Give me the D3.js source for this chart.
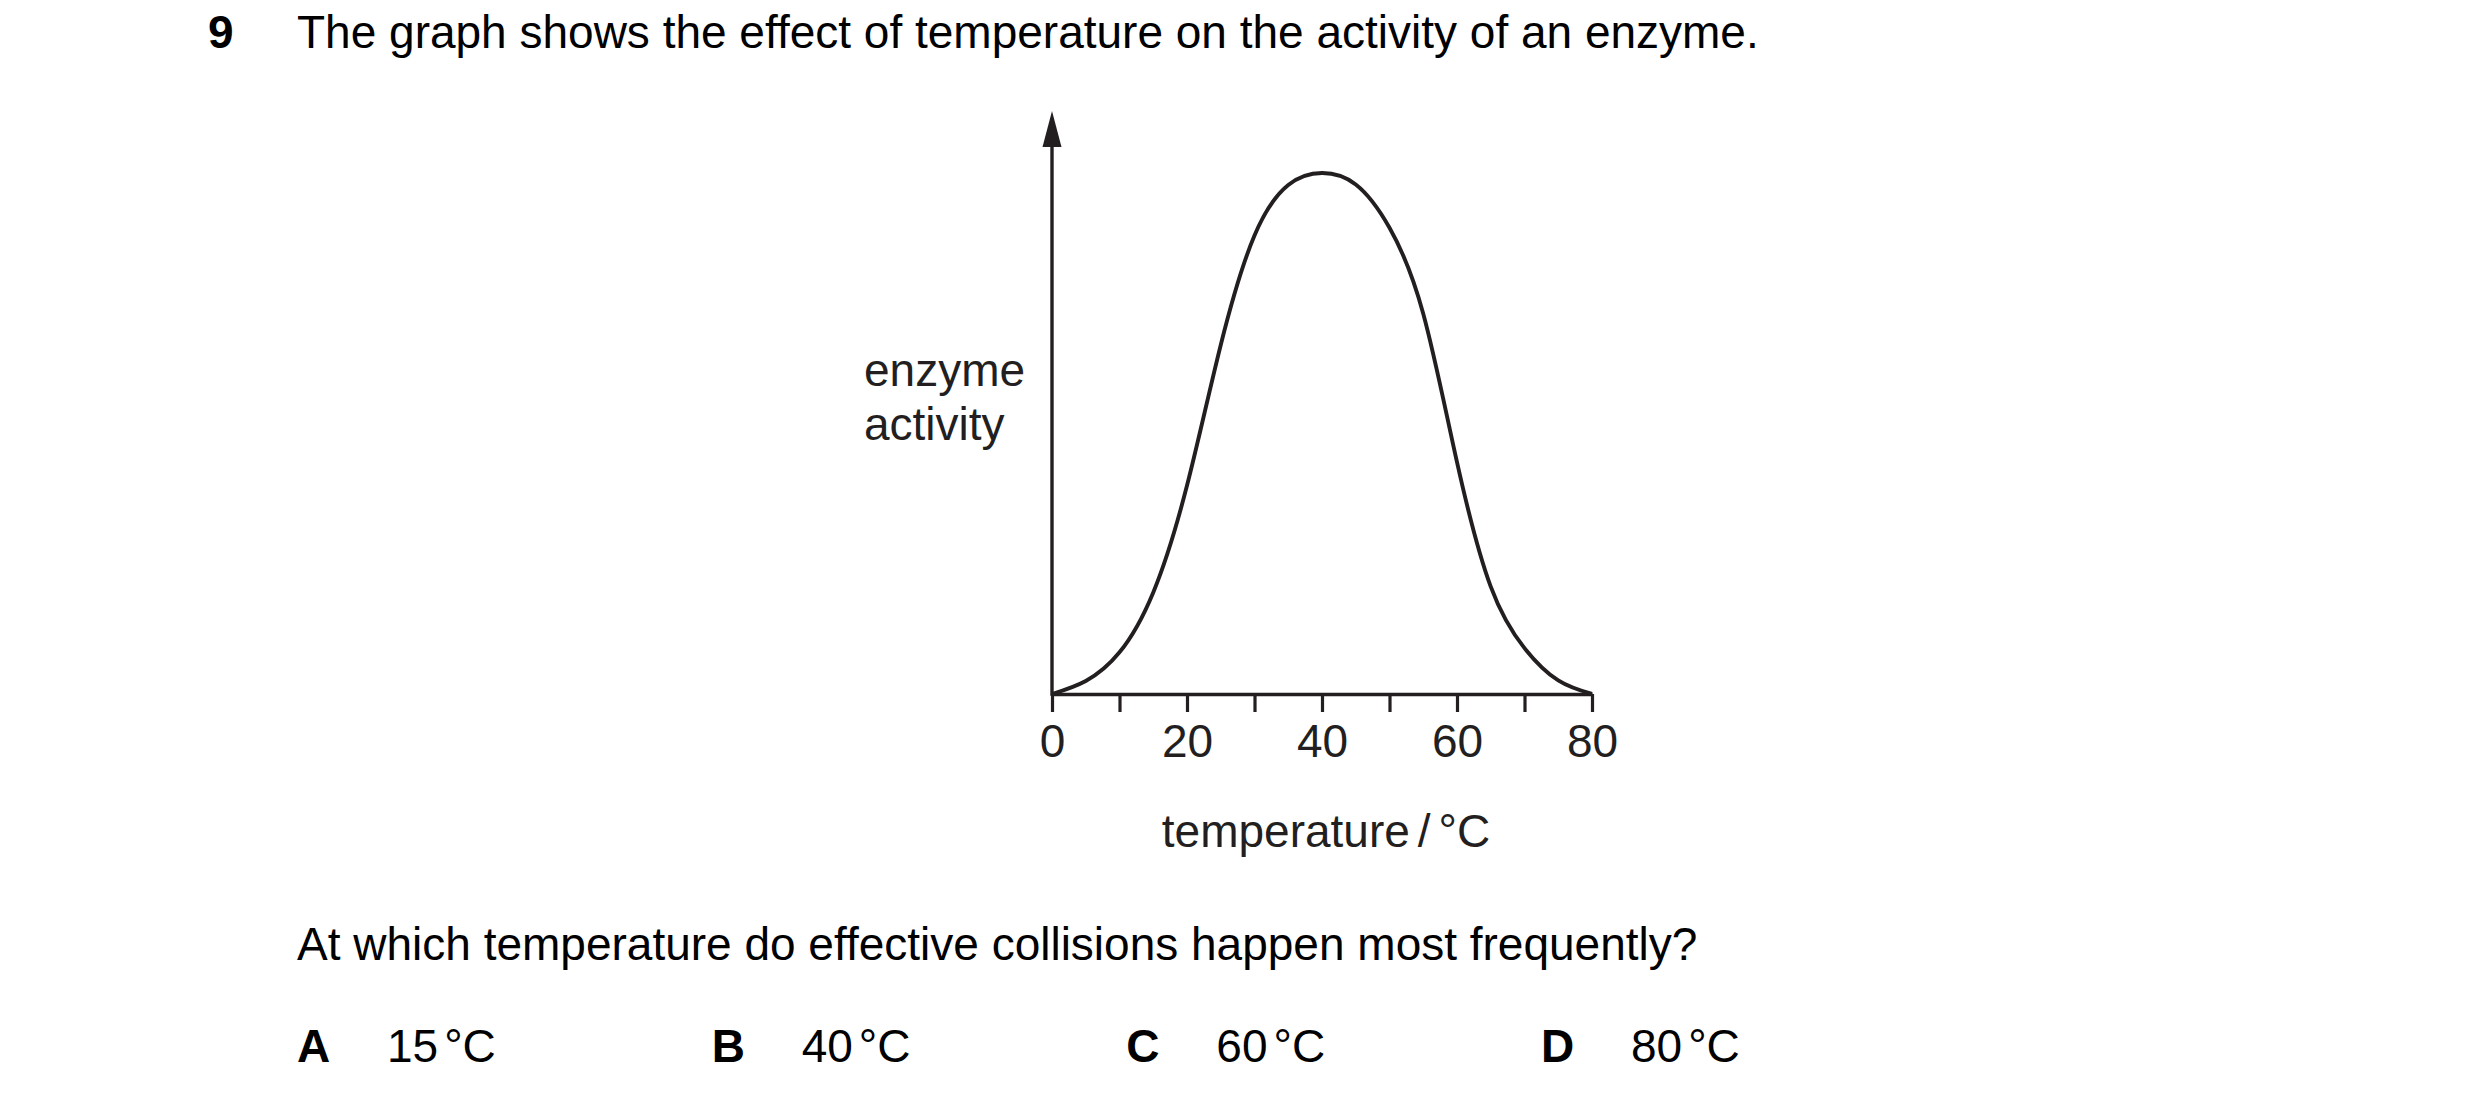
<!DOCTYPE html>
<html>
<head>
<meta charset="utf-8">
<script src="https://cdn.jsdelivr.net/npm/d3@7"></script>
<style>
  body { margin: 0; background: #fff; }
  svg { display: block; font-family: "Liberation Sans", Arial, sans-serif; }
</style>
</head>
<body>
<div id="chart"></div>
<script>
// temperature / °C every 5 degrees
var temperatures = [0, 5, 10, 15, 20, 25, 30, 35, 40, 45, 50, 55, 60, 65, 70, 75, 80];
// enzyme activity, relative to the peak (no units on the axis)
var activity = [0, 0.025, 0.08, 0.195, 0.40, 0.67, 0.88, 0.977, 1.0, 0.978, 0.895, 0.73, 0.445, 0.206, 0.088, 0.026, 0];
var xTicks = [0, 10, 20, 30, 40, 50, 60, 70, 80];
var xLabelled = [0, 20, 40, 60, 80];
var options = ["A", "B", "C", "D"];
var optionValues = ["15", "40", "60", "80"];

var width = 2480, height = 1100;
var ink = "#231f20";
var fontSize = 46;

var svg = d3.select("#chart").append("svg")
    .attr("width", width)
    .attr("height", height);

svg.append("rect").attr("width", width).attr("height", height).attr("fill", "#fff");

// question header
svg.append("text").attr("x", 208).attr("y", 48)
    .attr("font-size", fontSize).attr("font-weight", "bold").attr("fill", "#000")
    .text("9");
svg.append("text").attr("x", 297).attr("y", 48)
    .attr("font-size", fontSize).attr("fill", "#000")
    .text("The graph shows the effect of temperature on the activity of an enzyme.");

// graph area
var x = d3.scaleLinear().domain([0, 80]).range([1052, 1592]);
var y = d3.scaleLinear().domain([0, 1]).range([694, 173]);

var xAxis = d3.axisBottom(x)
    .tickValues(xTicks)
    .tickSize(18)
    .tickSizeOuter(0)
    .tickPadding(12)
    .tickFormat(function (d) { return xLabelled.indexOf(d) >= 0 ? d : ""; });

var gx = svg.append("g")
    .attr("transform", "translate(0," + y(0) + ")")
    .call(xAxis);
gx.select(".domain").attr("stroke", ink).attr("stroke-width", 3.4);
gx.selectAll(".tick line").attr("stroke", ink).attr("stroke-width", 3.2);
gx.selectAll(".tick text")
    .attr("fill", ink)
    .attr("font-size", fontSize)
    .attr("font-family", "Liberation Sans, Arial, sans-serif");

// y axis: plain line with an arrow head, no ticks
var yTop = 147;
svg.append("line")
    .attr("x1", x(0)).attr("x2", x(0))
    .attr("y1", y(0) + 1.7).attr("y2", yTop)
    .attr("stroke", ink).attr("stroke-width", 3.4);
svg.append("path")
    .attr("d", "M" + x(0) + ",111 L" + (x(0) + 9.5) + "," + yTop + " L" + (x(0) - 9.5) + "," + yTop + " Z")
    .attr("fill", ink);

// activity curve
var points = temperatures.map(function (t, i) { return [t, activity[i]]; });
var line = d3.line()
    .x(function (d) { return x(d[0]); })
    .y(function (d) { return y(d[1]); })
    .curve(d3.curveNatural);

svg.append("path")
    .datum(points)
    .attr("d", line)
    .attr("fill", "none")
    .attr("stroke", ink)
    .attr("stroke-width", 3.9)
    .attr("stroke-linejoin", "round");

// axis titles
var yLabel = svg.append("text")
    .attr("x", 864).attr("y", 386)
    .attr("font-size", fontSize).attr("fill", ink);
yLabel.append("tspan").attr("x", 864).text("enzyme");
yLabel.append("tspan").attr("x", 864).attr("dy", 54).text("activity");

var xLabel = svg.append("text")
    .attr("x", (x(0) + x(80)) / 2 + 4).attr("y", 847)
    .attr("text-anchor", "middle")
    .attr("font-size", fontSize).attr("fill", ink);
xLabel.append("tspan").text("temperature");
xLabel.append("tspan").attr("dx", 8).text("/");
xLabel.append("tspan").attr("dx", 8).text("°C");

// question and answer options
svg.append("text").attr("x", 297).attr("y", 960)
    .attr("font-size", fontSize).attr("fill", "#000")
    .text("At which temperature do effective collisions happen most frequently?");

var optionX = d3.scalePoint().domain(options).range([297, 1541]);
var row = svg.selectAll(".option").data(options).enter().append("g")
    .attr("class", "option")
    .attr("transform", function (d) { return "translate(" + optionX(d) + ",1062)"; });
row.append("text")
    .attr("font-size", fontSize).attr("font-weight", "bold").attr("fill", "#000")
    .text(function (d) { return d; });
var val = row.append("text")
    .attr("x", 90)
    .attr("font-size", fontSize).attr("fill", "#000");
val.append("tspan").text(function (d, i) { return optionValues[i]; });
val.append("tspan").attr("dx", 6).text("°C");
</script>
</body>
</html>
